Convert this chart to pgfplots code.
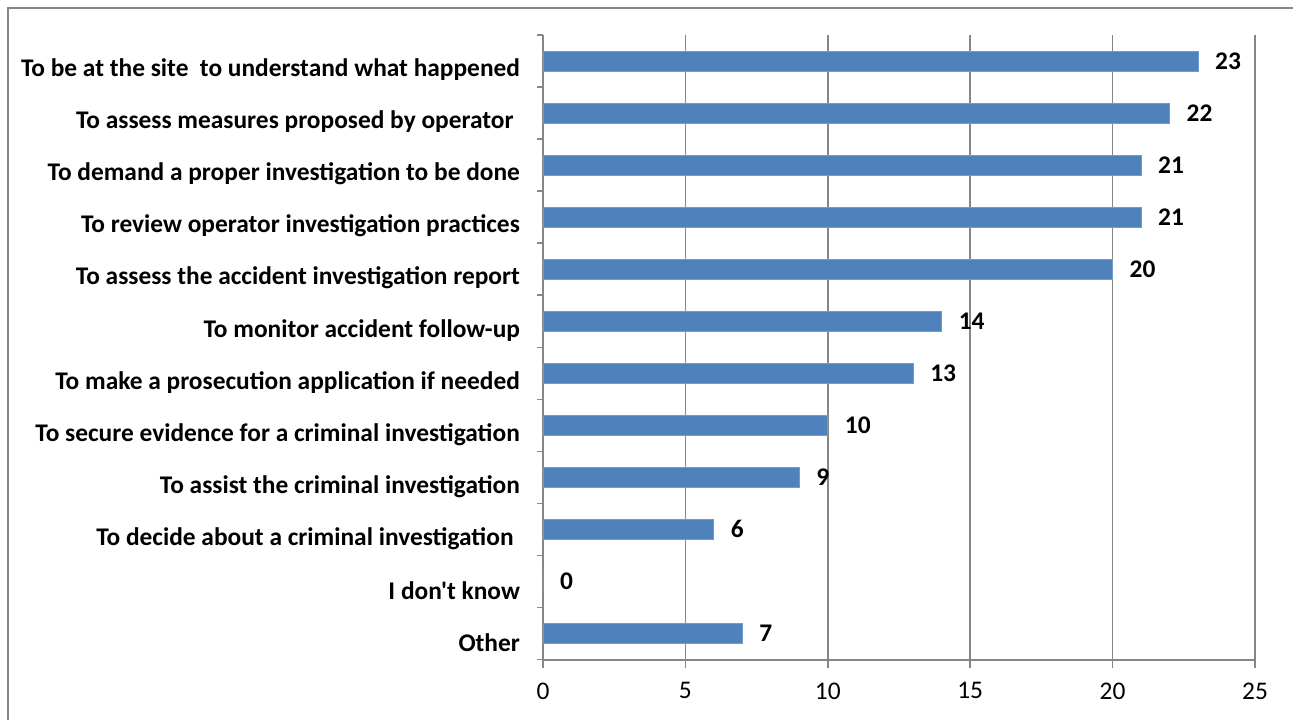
\documentclass[border=0pt]{standalone}
\usepackage{pgfplots}
\pgfplotsset{compat=1.18}
\usepackage{fontspec}
\setmainfont{Carlito}[Ligatures=TeXOff]
\definecolor{barblue}{HTML}{4F81BD}
\definecolor{axgray}{HTML}{868686}
\begin{document}
\begin{tikzpicture}
\path[use as bounding box] (0,0) rectangle (646.5pt,359.5pt);
\draw[axgray, line width=1pt] (3.9pt,-5pt) -- (3.9pt,355.5pt) -- (660pt,355.5pt);
\begin{axis}[
  at={(271.5pt,29.75pt)}, anchor=south west,
  scale only axis, width=356pt, height=312.25pt,
  xbar, bar width=10pt,
  xmin=0, xmax=25, ymin=-0.5, ymax=11.5,
  xtick={0,5,10,15,20,25},
  ytick={0,...,11},
  yticklabels={Other, I don't know, To decide about a criminal investigation\kern0.25em, To assist the criminal investigation, To secure evidence for a criminal investigation, To make a prosecution application if needed, To monitor accident follow-up, To assess the accident investigation report, To review operator investigation practices, To demand a proper investigation to be done, To assess measures proposed by operator\kern0.25em, To be at the site\ \ to understand what happened},
  yticklabel style={font=\fontsize{12.7}{14}\selectfont\bfseries, xshift=-4pt, yshift=-4.5pt},
  xticklabel style={font=\fontsize{12.7}{14}\selectfont, yshift=-4pt},
  /pgf/number format/assume math mode=true,
  major y tick style={draw=none},
  minor ytick={-0.5,0.5,...,11.5},
  minor y tick style={axgray, line width=0.75pt},
  minor tick length=3pt,
  ytick align=outside, xtick align=outside,
  major tick length=4pt,
  x tick style={axgray, line width=0.75pt},
  xmajorgrids, grid style={axgray, line width=0.75pt},
  axis x line*=bottom, axis y line*=left,
  axis line style={axgray, line width=1pt},
  nodes near coords,
  every node near coord/.append style={font=\fontsize{12.7}{14}\selectfont\bfseries, xshift=5pt, black},
  /pgf/number format/fixed,
]
\addplot[fill=barblue, draw=barblue!80!white] coordinates {
(7,0) (0,1) (6,2) (9,3) (10,4) (13,5) (14,6) (20,7) (21,8) (21,9) (22,10) (23,11)
};
\end{axis}
\end{tikzpicture}
\end{document}
